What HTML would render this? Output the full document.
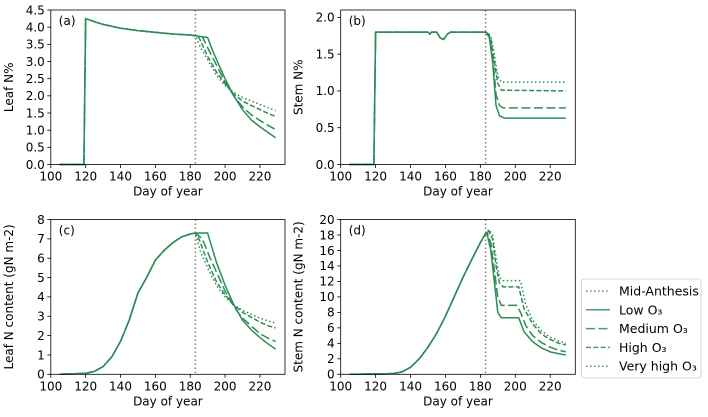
<!DOCTYPE html>
<html><head><meta charset="utf-8"><style>
html,body{margin:0;padding:0;background:#fff;}
svg{display:block;font-family:"DejaVu Sans","Liberation Sans",sans-serif;}
</style></head><body>
<svg id="fig" width="708" height="417" viewBox="0 0 708 417" xmlns="http://www.w3.org/2000/svg"></svg>
<script>
// ---- data (day, value pairs) ----
const seriesNames = ["Low O₃","Medium O₃","High O₃","Very high O₃"];
const antDay = 183;
// Panel a: Leaf N%
const aCommon = [[105,0],[119,0],[120,4.25],[125,4.16],[130,4.08],[140,3.97],[150,3.9],[160,3.85],[170,3.8],[180,3.77],[183,3.75]];
const aLow = [[190,3.7],[193,3.3],[196,2.95],[200,2.5],[205,2.0],[210,1.6],[215,1.3],[220,1.1],[225,0.92],[229,0.78]];
const aMed = [[187,3.72],[191,3.3],[195,2.9],[200,2.4],[205,2.0],[210,1.68],[215,1.45],[220,1.28],[225,1.13],[229,1.02]];
const aHigh = [[185,3.7],[190,3.15],[195,2.7],[200,2.35],[205,2.05],[210,1.85],[215,1.72],[220,1.6],[225,1.48],[229,1.4]];
const aVH = [[183,3.75],[186,3.4],[190,3.05],[195,2.6],[200,2.3],[205,2.1],[210,1.95],[215,1.85],[220,1.75],[225,1.65],[229,1.57]];
// Panel b: Stem N%
const bCommon = [[105,0],[119,0],[120,1.8],[150,1.8],[151,1.77],[152,1.8],[155,1.8],[157,1.72],[159,1.7],[161,1.77],[163,1.8],[183,1.8]];
const bLow = [[185,1.75],[187,1.4],[189,0.8],[191,0.66],[194,0.63],[229,0.63]];
const bMed = [[185,1.77],[187,1.5],[189,0.95],[191,0.8],[193,0.77],[229,0.77]];
const bHigh = [[186,1.7],[188,1.4],[190,1.1],[192,1.01],[229,1.0]];
const bVH = [[186,1.75],[188,1.5],[190,1.2],[192,1.12],[229,1.12]];
// Panel c: Leaf N content
const cCommon = [[105,0],[120,0.05],[125,0.15],[130,0.4],[135,0.9],[140,1.7],[145,2.8],[150,4.2],[155,5.0],[160,5.9],[165,6.4],[170,6.8],[175,7.1],[180,7.25],[183,7.3]];
const cLow = [[190,7.3],[195,5.8],[200,4.6],[205,3.6],[210,2.8],[215,2.3],[220,1.9],[225,1.55],[229,1.3]];
const cMed = [[187,7.0],[191,6.1],[195,5.3],[200,4.3],[205,3.5],[210,2.9],[215,2.5],[220,2.1],[225,1.85],[229,1.7]];
const cHigh = [[185,7.0],[190,5.8],[195,4.8],[200,4.1],[205,3.6],[210,3.2],[215,2.95],[220,2.7],[225,2.5],[229,2.4]];
const cVH = [[183,7.3],[186,6.3],[190,5.5],[195,4.6],[200,4.0],[205,3.6],[210,3.3],[215,3.1],[220,2.9],[225,2.75],[229,2.65]];
// Panel d: Stem N content
const dCommon = [[105,0],[125,0.05],[130,0.1],[135,0.3],[140,0.9],[145,2.0],[150,3.5],[155,5.3],[160,7.5],[165,10],[170,12.5],[175,14.8],[180,17],[183,18.2]];
const dLow = [[184,18.0],[186,16],[188,12],[190,8],[192,7.3],[202,7.3],[205,5.5],[210,4.2],[215,3.4],[220,2.9],[225,2.65],[229,2.5]];
const dMed = [[184,18.3],[186,17],[188,13.5],[190,10],[192,8.9],[201,8.9],[203,8.0],[206,6.3],[210,5.0],[215,4.1],[220,3.5],[225,3.1],[229,2.9]];
const dHigh = [[185,18.5],[187,17.5],[189,14],[191,11.8],[193,11.3],[202,11.3],[205,8.5],[210,6.5],[215,5.2],[220,4.5],[225,4.0],[229,3.8]];
const dVH = [[185,18.7],[187,18],[189,15],[191,12.5],[193,12.1],[203,12.1],[206,9],[210,7],[215,5.6],[220,4.8],[225,4.3],[229,4.0]];

const xTicks = [100,120,140,160,180,200,220];
const aTicks = ["0.0","0.5","1.0","1.5","2.0","2.5","3.0","3.5","4.0","4.5"];
const bTicks = ["0.0","0.5","1.0","1.5","2.0"];
const cTicks = ["0","1","2","3","4","5","6","7","8"];
const dTicks = ["0","2","4","6","8","10","12","14","16","18","20"];

const NS="http://www.w3.org/2000/svg";
const svg=document.getElementById('fig');
const GREEN="#2e8b57";
const dashes=["", "9,3.5","5,2.3","1.5,2.5"];
const FS="12px";
function mk(tag,attrs,parent){const e=document.createElementNS(NS,tag);for(const k in attrs)e.setAttribute(k,attrs[k]);(parent||svg).appendChild(e);return e;}

function panel(name,L,R,T,B,ymax,yticks,ylabel,tag,common,series){
  const g=mk('g',{});
  
  
  const x=v=>L+(v-100)/(234.4-100)*(R-L);
  const y=v=>B-v/ymax*(B-T);
  const al=mk('line',{x1:x(antDay),x2:x(antDay),y1:T,y2:B,stroke:"#808080","stroke-width":1.5,"stroke-dasharray":"1.5,2.5"},g);
  
  
  series.forEach((s,i)=>{
    const pts=common.concat(s).map(p=>x(p[0]).toFixed(2)+","+y(p[1]).toFixed(2)).join(" ");
    const pl=mk('polyline',{points:pts,fill:"none",stroke:GREEN,"stroke-width":1.5,"stroke-dasharray":dashes[i],"stroke-linejoin":"round"},g);
    
    
  });
  const fr=mk('rect',{x:L,y:T,width:R-L,height:B-T,fill:"none",stroke:"#000","stroke-width":0.8},g);
  
  
  xTicks.forEach(t=>{
    mk('line',{x1:x(t),x2:x(t),y1:B,y2:B+3.5,stroke:"#000","stroke-width":0.8},g);
    const tx=mk('text',{x:x(t),y:B+16,"text-anchor":"middle","font-size":FS,fill:"#000"},g);
    tx.textContent=t;
    
    
  });
  yticks.forEach(t=>{
    const v=parseFloat(t);
    mk('line',{x1:L-3.5,x2:L,y1:y(v),y2:y(v),stroke:"#000","stroke-width":0.8},g);
    const tx=mk('text',{x:L-6,y:y(v)+4.3,"text-anchor":"end","font-size":FS,fill:"#000"},g);
    tx.textContent=t;
    
    
  });
  const xl=mk('text',{x:(L+R)/2,y:B+31,"text-anchor":"middle","font-size":FS},g);
  xl.textContent="Day of year";
  
  
  const yl=mk('text',{x:0,y:0,"text-anchor":"middle","font-size":FS,transform:`translate(${L-38},${(T+B)/2}) rotate(-90)`},g);
  yl.textContent=ylabel;
  
  
  const pt=mk('text',{x:L+8,y:T+15,"font-size":FS},g);
  pt.textContent=tag;
  
  
}
panel('panel-a-leaf-n-percent',50.8,285,10,164.5,4.5,aTicks,"Leaf N%","(a)",aCommon,[aLow,aMed,aHigh,aVH]);
panel('panel-b-stem-n-percent',340.7,575.3,10,164.5,2.1,bTicks,"Stem N%","(b)",bCommon,[bLow,bMed,bHigh,bVH]);
panel('panel-c-leaf-n-content',50.8,285,219.5,374.3,8,cTicks,"Leaf N content (gN m-2)","(c)",cCommon,[cLow,cMed,cHigh,cVH]);
panel('panel-d-stem-n-content',340.7,575.3,219.5,374.3,20,dTicks,"Stem N content (gN m-2)","(d)",dCommon,[dLow,dMed,dHigh,dVH]);

const lg=mk('g',{});


mk('rect',{x:581.5,y:279,width:119.5,height:99,rx:2.5,fill:"#fff",stroke:"#ccc","stroke-width":0.8},lg);
const labels=["Mid-Anthesis"].concat(seriesNames);
labels.forEach((lab,i)=>{
  const yy=291+i*18.8;
  const ln=mk('line',{x1:586,x2:610,y1:yy,y2:yy,stroke:i==0?"#808080":GREEN,"stroke-width":1.5,"stroke-dasharray":i==0?"1.5,2.5":dashes[i-1],opacity:i==0?1:0.85},lg);
  
  
  const t=mk('text',{x:619,y:yy+4.5,"font-size":"12.5px"},lg);
  t.textContent=lab;
  
  
});
</script>
</body></html>
